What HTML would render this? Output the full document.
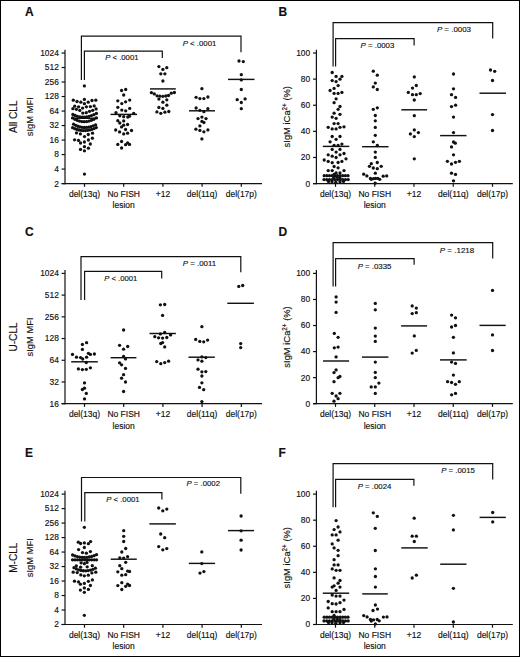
<!DOCTYPE html>
<html><head><meta charset="utf-8"><style>
html,body{margin:0;padding:0;background:#fff;}
svg{display:block;}
text{font-family:"Liberation Sans", sans-serif;fill:#111;stroke:#111;stroke-width:0.15px;}
</style></head><body>
<svg width="520" height="657" viewBox="0 0 520 657">
<rect x="0.5" y="0.5" width="519" height="656" fill="#fff" stroke="#000" stroke-width="1"/>
<g fill="#111">
<line x1="65.00" y1="49.70" x2="65.00" y2="184.20" stroke="#111" stroke-width="1.2"/>
<line x1="61.60" y1="183.60" x2="262.00" y2="183.60" stroke="#111" stroke-width="1.2"/>
<line x1="61.60" y1="183.60" x2="65.00" y2="183.60" stroke="#111" stroke-width="1.2"/>
<text x="58.80" y="186.50" font-size="8.4" text-anchor="end" >2</text>
<line x1="61.60" y1="169.09" x2="65.00" y2="169.09" stroke="#111" stroke-width="1.2"/>
<text x="58.80" y="171.99" font-size="8.4" text-anchor="end" >4</text>
<line x1="61.60" y1="154.58" x2="65.00" y2="154.58" stroke="#111" stroke-width="1.2"/>
<text x="58.80" y="157.48" font-size="8.4" text-anchor="end" >8</text>
<line x1="61.60" y1="140.07" x2="65.00" y2="140.07" stroke="#111" stroke-width="1.2"/>
<text x="58.80" y="142.97" font-size="8.4" text-anchor="end" >16</text>
<line x1="61.60" y1="125.56" x2="65.00" y2="125.56" stroke="#111" stroke-width="1.2"/>
<text x="58.80" y="128.46" font-size="8.4" text-anchor="end" >32</text>
<line x1="61.60" y1="111.04" x2="65.00" y2="111.04" stroke="#111" stroke-width="1.2"/>
<text x="58.80" y="113.94" font-size="8.4" text-anchor="end" >64</text>
<line x1="61.60" y1="96.53" x2="65.00" y2="96.53" stroke="#111" stroke-width="1.2"/>
<text x="58.80" y="99.43" font-size="8.4" text-anchor="end" >128</text>
<line x1="61.60" y1="82.02" x2="65.00" y2="82.02" stroke="#111" stroke-width="1.2"/>
<text x="58.80" y="84.92" font-size="8.4" text-anchor="end" >256</text>
<line x1="61.60" y1="67.51" x2="65.00" y2="67.51" stroke="#111" stroke-width="1.2"/>
<text x="58.80" y="70.41" font-size="8.4" text-anchor="end" >512</text>
<line x1="61.60" y1="53.00" x2="65.00" y2="53.00" stroke="#111" stroke-width="1.2"/>
<text x="58.80" y="55.90" font-size="8.4" text-anchor="end" >1024</text>
<line x1="84.50" y1="183.60" x2="84.50" y2="186.80" stroke="#111" stroke-width="1.2"/>
<line x1="123.70" y1="183.60" x2="123.70" y2="186.80" stroke="#111" stroke-width="1.2"/>
<line x1="162.90" y1="183.60" x2="162.90" y2="186.80" stroke="#111" stroke-width="1.2"/>
<line x1="202.10" y1="183.60" x2="202.10" y2="186.80" stroke="#111" stroke-width="1.2"/>
<line x1="241.30" y1="183.60" x2="241.30" y2="186.80" stroke="#111" stroke-width="1.2"/>
<text x="84.50" y="197.30" font-size="8.5" text-anchor="middle" >del(13q)</text>
<text x="123.70" y="197.30" font-size="8.5" text-anchor="middle" >No FISH</text>
<text x="162.90" y="197.30" font-size="8.5" text-anchor="middle" >+12</text>
<text x="202.10" y="197.30" font-size="8.5" text-anchor="middle" >del(11q)</text>
<text x="241.30" y="197.30" font-size="8.5" text-anchor="middle" >del(17p)</text>
<text x="123.70" y="208.40" font-size="8.5" text-anchor="middle" >lesion</text>
<text transform="translate(32.80,116.70) rotate(-90)" font-size="9.4" text-anchor="middle">sIgM MFI</text>
<text transform="translate(16.60,116.70) rotate(-90)" font-size="10.1" text-anchor="middle">All CLL</text>
<text x="25.00" y="16.00" font-size="12.0" text-anchor="start" font-weight="bold">A</text>
<polyline points="81.40,80.00 81.40,36.20 241.00,36.20 241.00,52.30" fill="none" stroke="#111" stroke-width="1.2"/>
<polyline points="84.40,80.00 84.40,51.20 162.30,51.20 162.30,57.90" fill="none" stroke="#111" stroke-width="1.2"/>
<text x="182.70" y="45.80" font-size="8.0" textLength="33.60" lengthAdjust="spacingAndGlyphs"><tspan font-style="italic">P</tspan> &lt; .0001</text>
<text x="105.20" y="59.70" font-size="8.0" textLength="33.30" lengthAdjust="spacingAndGlyphs"><tspan font-style="italic">P</tspan> &lt; .0001</text>
<line x1="71.20" y1="118.30" x2="97.80" y2="118.30" stroke="#111" stroke-width="1.45"/>
<line x1="110.50" y1="114.40" x2="137.00" y2="114.40" stroke="#111" stroke-width="1.45"/>
<line x1="150.00" y1="88.90" x2="175.80" y2="88.90" stroke="#111" stroke-width="1.45"/>
<line x1="189.00" y1="110.80" x2="215.00" y2="110.80" stroke="#111" stroke-width="1.45"/>
<line x1="228.00" y1="79.40" x2="254.50" y2="79.40" stroke="#111" stroke-width="1.45"/>
<circle cx="84.40" cy="85.90" r="1.65"/>
<circle cx="73.30" cy="100.20" r="1.65"/>
<circle cx="77.00" cy="101.50" r="1.65"/>
<circle cx="80.80" cy="102.20" r="1.65"/>
<circle cx="84.40" cy="99.40" r="1.65"/>
<circle cx="84.40" cy="103.70" r="1.65"/>
<circle cx="88.20" cy="102.20" r="1.65"/>
<circle cx="92.00" cy="100.50" r="1.65"/>
<circle cx="95.80" cy="100.20" r="1.65"/>
<circle cx="74.70" cy="106.20" r="1.65"/>
<circle cx="72.90" cy="108.70" r="1.65"/>
<circle cx="78.60" cy="106.80" r="1.65"/>
<circle cx="76.40" cy="109.30" r="1.65"/>
<circle cx="79.80" cy="110.40" r="1.65"/>
<circle cx="82.60" cy="108.10" r="1.65"/>
<circle cx="86.40" cy="106.80" r="1.65"/>
<circle cx="90.40" cy="106.60" r="1.65"/>
<circle cx="94.20" cy="105.90" r="1.65"/>
<circle cx="96.10" cy="108.90" r="1.65"/>
<circle cx="92.70" cy="110.30" r="1.65"/>
<circle cx="89.50" cy="111.30" r="1.65"/>
<circle cx="86.25" cy="112.70" r="1.65"/>
<circle cx="82.80" cy="113.10" r="1.65"/>
<circle cx="76.50" cy="132.90" r="1.65"/>
<circle cx="80.40" cy="133.90" r="1.65"/>
<circle cx="84.50" cy="136.60" r="1.65"/>
<circle cx="88.30" cy="134.50" r="1.65"/>
<circle cx="92.50" cy="133.20" r="1.65"/>
<circle cx="74.60" cy="139.80" r="1.65"/>
<circle cx="78.50" cy="140.40" r="1.65"/>
<circle cx="80.50" cy="143.00" r="1.65"/>
<circle cx="84.40" cy="142.00" r="1.65"/>
<circle cx="88.40" cy="140.00" r="1.65"/>
<circle cx="92.40" cy="138.20" r="1.65"/>
<circle cx="90.30" cy="144.00" r="1.65"/>
<circle cx="84.45" cy="146.70" r="1.65"/>
<circle cx="88.40" cy="148.20" r="1.65"/>
<circle cx="80.50" cy="149.40" r="1.65"/>
<circle cx="84.45" cy="150.80" r="1.65"/>
<circle cx="84.45" cy="174.10" r="1.65"/>
<circle cx="72.90" cy="114.50" r="1.65"/>
<circle cx="75.13" cy="115.52" r="1.65"/>
<circle cx="77.39" cy="116.28" r="1.65"/>
<circle cx="79.68" cy="116.80" r="1.65"/>
<circle cx="81.99" cy="117.06" r="1.65"/>
<circle cx="84.33" cy="117.07" r="1.65"/>
<circle cx="86.69" cy="116.84" r="1.65"/>
<circle cx="89.08" cy="116.36" r="1.65"/>
<circle cx="91.49" cy="115.62" r="1.65"/>
<circle cx="93.93" cy="114.64" r="1.65"/>
<circle cx="96.40" cy="113.40" r="1.65"/>
<circle cx="72.60" cy="117.90" r="1.65"/>
<circle cx="74.89" cy="119.27" r="1.65"/>
<circle cx="77.20" cy="120.33" r="1.65"/>
<circle cx="79.52" cy="121.09" r="1.65"/>
<circle cx="81.86" cy="121.55" r="1.65"/>
<circle cx="84.22" cy="121.70" r="1.65"/>
<circle cx="86.60" cy="121.55" r="1.65"/>
<circle cx="89.00" cy="121.09" r="1.65"/>
<circle cx="91.42" cy="120.33" r="1.65"/>
<circle cx="93.85" cy="119.27" r="1.65"/>
<circle cx="96.30" cy="117.90" r="1.65"/>
<circle cx="73.60" cy="124.20" r="1.65"/>
<circle cx="75.69" cy="125.34" r="1.65"/>
<circle cx="77.81" cy="126.24" r="1.65"/>
<circle cx="79.95" cy="126.90" r="1.65"/>
<circle cx="82.11" cy="127.32" r="1.65"/>
<circle cx="84.30" cy="127.50" r="1.65"/>
<circle cx="86.51" cy="127.44" r="1.65"/>
<circle cx="88.75" cy="127.14" r="1.65"/>
<circle cx="91.01" cy="126.60" r="1.65"/>
<circle cx="93.29" cy="125.82" r="1.65"/>
<circle cx="95.60" cy="124.80" r="1.65"/>
<circle cx="72.60" cy="127.70" r="1.65"/>
<circle cx="74.74" cy="128.66" r="1.65"/>
<circle cx="76.88" cy="129.42" r="1.65"/>
<circle cx="79.02" cy="129.99" r="1.65"/>
<circle cx="81.17" cy="130.37" r="1.65"/>
<circle cx="83.32" cy="130.56" r="1.65"/>
<circle cx="85.48" cy="130.55" r="1.65"/>
<circle cx="87.64" cy="130.34" r="1.65"/>
<circle cx="89.80" cy="129.95" r="1.65"/>
<circle cx="91.96" cy="129.36" r="1.65"/>
<circle cx="94.13" cy="128.58" r="1.65"/>
<circle cx="96.30" cy="127.60" r="1.65"/>
<circle cx="121.60" cy="90.50" r="1.65"/>
<circle cx="125.70" cy="89.50" r="1.65"/>
<circle cx="123.70" cy="95.00" r="1.65"/>
<circle cx="117.80" cy="100.80" r="1.65"/>
<circle cx="121.80" cy="103.60" r="1.65"/>
<circle cx="125.60" cy="101.80" r="1.65"/>
<circle cx="129.70" cy="100.10" r="1.65"/>
<circle cx="117.80" cy="107.30" r="1.65"/>
<circle cx="121.80" cy="110.10" r="1.65"/>
<circle cx="125.70" cy="110.80" r="1.65"/>
<circle cx="129.70" cy="108.40" r="1.65"/>
<circle cx="116.00" cy="112.70" r="1.65"/>
<circle cx="133.70" cy="113.30" r="1.65"/>
<circle cx="119.80" cy="115.80" r="1.65"/>
<circle cx="123.70" cy="116.70" r="1.65"/>
<circle cx="127.80" cy="117.00" r="1.65"/>
<circle cx="129.50" cy="116.20" r="1.65"/>
<circle cx="117.80" cy="120.70" r="1.65"/>
<circle cx="123.70" cy="120.90" r="1.65"/>
<circle cx="119.80" cy="123.00" r="1.65"/>
<circle cx="127.60" cy="124.50" r="1.65"/>
<circle cx="123.70" cy="125.20" r="1.65"/>
<circle cx="121.60" cy="126.90" r="1.65"/>
<circle cx="115.70" cy="130.00" r="1.65"/>
<circle cx="119.60" cy="131.90" r="1.65"/>
<circle cx="125.60" cy="129.50" r="1.65"/>
<circle cx="131.50" cy="130.50" r="1.65"/>
<circle cx="123.70" cy="133.90" r="1.65"/>
<circle cx="127.60" cy="133.20" r="1.65"/>
<circle cx="121.60" cy="141.50" r="1.65"/>
<circle cx="117.80" cy="144.40" r="1.65"/>
<circle cx="125.60" cy="144.70" r="1.65"/>
<circle cx="127.60" cy="142.90" r="1.65"/>
<circle cx="129.50" cy="144.40" r="1.65"/>
<circle cx="121.60" cy="148.00" r="1.65"/>
<circle cx="158.90" cy="66.60" r="1.65"/>
<circle cx="162.90" cy="69.40" r="1.65"/>
<circle cx="166.80" cy="67.70" r="1.65"/>
<circle cx="160.80" cy="73.80" r="1.65"/>
<circle cx="164.90" cy="73.80" r="1.65"/>
<circle cx="162.90" cy="81.00" r="1.65"/>
<circle cx="151.40" cy="92.70" r="1.65"/>
<circle cx="154.30" cy="93.90" r="1.65"/>
<circle cx="157.10" cy="95.80" r="1.65"/>
<circle cx="159.90" cy="96.20" r="1.65"/>
<circle cx="162.90" cy="96.30" r="1.65"/>
<circle cx="165.80" cy="96.00" r="1.65"/>
<circle cx="168.50" cy="95.50" r="1.65"/>
<circle cx="171.30" cy="93.20" r="1.65"/>
<circle cx="174.40" cy="92.50" r="1.65"/>
<circle cx="158.90" cy="99.10" r="1.65"/>
<circle cx="166.80" cy="99.80" r="1.65"/>
<circle cx="162.90" cy="102.20" r="1.65"/>
<circle cx="166.80" cy="105.20" r="1.65"/>
<circle cx="158.90" cy="107.40" r="1.65"/>
<circle cx="162.90" cy="108.40" r="1.65"/>
<circle cx="156.90" cy="111.90" r="1.65"/>
<circle cx="160.80" cy="113.30" r="1.65"/>
<circle cx="164.90" cy="112.20" r="1.65"/>
<circle cx="168.80" cy="111.50" r="1.65"/>
<circle cx="201.90" cy="88.70" r="1.65"/>
<circle cx="196.10" cy="97.30" r="1.65"/>
<circle cx="199.90" cy="98.60" r="1.65"/>
<circle cx="203.90" cy="98.60" r="1.65"/>
<circle cx="207.90" cy="97.00" r="1.65"/>
<circle cx="196.10" cy="108.00" r="1.65"/>
<circle cx="199.90" cy="110.30" r="1.65"/>
<circle cx="203.90" cy="111.70" r="1.65"/>
<circle cx="207.90" cy="108.70" r="1.65"/>
<circle cx="201.90" cy="117.10" r="1.65"/>
<circle cx="198.00" cy="118.60" r="1.65"/>
<circle cx="206.00" cy="118.60" r="1.65"/>
<circle cx="201.90" cy="121.40" r="1.65"/>
<circle cx="203.90" cy="122.50" r="1.65"/>
<circle cx="199.90" cy="125.90" r="1.65"/>
<circle cx="195.90" cy="129.20" r="1.65"/>
<circle cx="199.90" cy="130.40" r="1.65"/>
<circle cx="203.90" cy="131.80" r="1.65"/>
<circle cx="207.90" cy="129.90" r="1.65"/>
<circle cx="201.90" cy="138.90" r="1.65"/>
<circle cx="239.00" cy="61.00" r="1.65"/>
<circle cx="243.30" cy="61.60" r="1.65"/>
<circle cx="241.30" cy="74.70" r="1.65"/>
<circle cx="241.30" cy="79.90" r="1.65"/>
<circle cx="241.30" cy="89.50" r="1.65"/>
<circle cx="237.20" cy="99.70" r="1.65"/>
<circle cx="245.10" cy="98.90" r="1.65"/>
<circle cx="241.30" cy="102.50" r="1.65"/>
<circle cx="241.30" cy="108.70" r="1.65"/>
<line x1="316.40" y1="49.70" x2="316.40" y2="184.20" stroke="#111" stroke-width="1.2"/>
<line x1="313.00" y1="183.60" x2="512.80" y2="183.60" stroke="#111" stroke-width="1.2"/>
<line x1="313.00" y1="183.60" x2="316.40" y2="183.60" stroke="#111" stroke-width="1.2"/>
<text x="310.20" y="186.50" font-size="8.4" text-anchor="end" >0</text>
<line x1="313.00" y1="157.48" x2="316.40" y2="157.48" stroke="#111" stroke-width="1.2"/>
<text x="310.20" y="160.38" font-size="8.4" text-anchor="end" >20</text>
<line x1="313.00" y1="131.36" x2="316.40" y2="131.36" stroke="#111" stroke-width="1.2"/>
<text x="310.20" y="134.26" font-size="8.4" text-anchor="end" >40</text>
<line x1="313.00" y1="105.24" x2="316.40" y2="105.24" stroke="#111" stroke-width="1.2"/>
<text x="310.20" y="108.14" font-size="8.4" text-anchor="end" >60</text>
<line x1="313.00" y1="79.12" x2="316.40" y2="79.12" stroke="#111" stroke-width="1.2"/>
<text x="310.20" y="82.02" font-size="8.4" text-anchor="end" >80</text>
<line x1="313.00" y1="53.00" x2="316.40" y2="53.00" stroke="#111" stroke-width="1.2"/>
<text x="310.20" y="55.90" font-size="8.4" text-anchor="end" >100</text>
<line x1="335.50" y1="183.60" x2="335.50" y2="186.80" stroke="#111" stroke-width="1.2"/>
<line x1="374.75" y1="183.60" x2="374.75" y2="186.80" stroke="#111" stroke-width="1.2"/>
<line x1="414.00" y1="183.60" x2="414.00" y2="186.80" stroke="#111" stroke-width="1.2"/>
<line x1="453.25" y1="183.60" x2="453.25" y2="186.80" stroke="#111" stroke-width="1.2"/>
<line x1="492.50" y1="183.60" x2="492.50" y2="186.80" stroke="#111" stroke-width="1.2"/>
<text x="335.50" y="197.30" font-size="8.5" text-anchor="middle" >del(13q)</text>
<text x="374.75" y="197.30" font-size="8.5" text-anchor="middle" >No FISH</text>
<text x="414.00" y="197.30" font-size="8.5" text-anchor="middle" >+12</text>
<text x="453.25" y="197.30" font-size="8.5" text-anchor="middle" >del(11q)</text>
<text x="492.50" y="197.30" font-size="8.5" text-anchor="middle" >del(17p)</text>
<text x="374.75" y="208.40" font-size="8.5" text-anchor="middle" >lesion</text>
<text transform="translate(290.00,116.70) rotate(-90)" font-size="9.4" text-anchor="middle">sIgM iCa<tspan font-size="6.3" dy="-2.7">2+</tspan><tspan dy="2.7"> (%)</tspan></text>
<text x="278.50" y="16.00" font-size="12.0" text-anchor="start" font-weight="bold">B</text>
<polyline points="333.10,66.50 333.10,22.70 492.70,22.70 492.70,38.50" fill="none" stroke="#111" stroke-width="1.2"/>
<polyline points="335.60,66.50 335.60,38.70 414.10,38.70 414.10,45.40" fill="none" stroke="#111" stroke-width="1.2"/>
<text x="436.90" y="31.90" font-size="8.0" textLength="34.10" lengthAdjust="spacingAndGlyphs"><tspan font-style="italic">P</tspan> = .0003</text>
<text x="360.60" y="47.70" font-size="8.0" textLength="33.70" lengthAdjust="spacingAndGlyphs"><tspan font-style="italic">P</tspan> = .0003</text>
<line x1="322.80" y1="146.40" x2="349.30" y2="146.40" stroke="#111" stroke-width="1.45"/>
<line x1="362.10" y1="146.70" x2="388.50" y2="146.70" stroke="#111" stroke-width="1.45"/>
<line x1="401.30" y1="109.80" x2="427.10" y2="109.80" stroke="#111" stroke-width="1.45"/>
<line x1="440.10" y1="135.60" x2="466.50" y2="135.60" stroke="#111" stroke-width="1.45"/>
<line x1="479.50" y1="93.20" x2="506.00" y2="93.20" stroke="#111" stroke-width="1.45"/>
<circle cx="332.20" cy="72.50" r="1.65"/>
<circle cx="336.10" cy="76.40" r="1.65"/>
<circle cx="341.90" cy="76.40" r="1.65"/>
<circle cx="340.00" cy="79.20" r="1.65"/>
<circle cx="332.20" cy="80.60" r="1.65"/>
<circle cx="336.10" cy="81.60" r="1.65"/>
<circle cx="338.10" cy="85.60" r="1.65"/>
<circle cx="334.10" cy="88.40" r="1.65"/>
<circle cx="330.10" cy="90.50" r="1.65"/>
<circle cx="334.10" cy="93.40" r="1.65"/>
<circle cx="338.10" cy="93.40" r="1.65"/>
<circle cx="341.90" cy="92.40" r="1.65"/>
<circle cx="336.10" cy="98.80" r="1.65"/>
<circle cx="334.10" cy="102.70" r="1.65"/>
<circle cx="340.00" cy="106.50" r="1.65"/>
<circle cx="338.10" cy="109.30" r="1.65"/>
<circle cx="334.10" cy="113.20" r="1.65"/>
<circle cx="340.00" cy="114.30" r="1.65"/>
<circle cx="332.20" cy="117.10" r="1.65"/>
<circle cx="336.10" cy="118.30" r="1.65"/>
<circle cx="334.10" cy="123.60" r="1.65"/>
<circle cx="338.10" cy="123.60" r="1.65"/>
<circle cx="328.20" cy="127.30" r="1.65"/>
<circle cx="332.20" cy="128.90" r="1.65"/>
<circle cx="336.10" cy="128.90" r="1.65"/>
<circle cx="340.00" cy="127.30" r="1.65"/>
<circle cx="344.00" cy="126.80" r="1.65"/>
<circle cx="332.20" cy="136.50" r="1.65"/>
<circle cx="340.00" cy="136.50" r="1.65"/>
<circle cx="336.10" cy="139.30" r="1.65"/>
<circle cx="330.10" cy="141.80" r="1.65"/>
<circle cx="334.10" cy="145.30" r="1.65"/>
<circle cx="338.10" cy="145.50" r="1.65"/>
<circle cx="341.90" cy="144.10" r="1.65"/>
<circle cx="332.20" cy="149.40" r="1.65"/>
<circle cx="340.00" cy="149.40" r="1.65"/>
<circle cx="336.10" cy="152.10" r="1.65"/>
<circle cx="328.20" cy="154.80" r="1.65"/>
<circle cx="332.20" cy="156.20" r="1.65"/>
<circle cx="340.00" cy="154.80" r="1.65"/>
<circle cx="344.00" cy="153.50" r="1.65"/>
<circle cx="336.10" cy="157.50" r="1.65"/>
<circle cx="324.20" cy="160.00" r="1.65"/>
<circle cx="328.20" cy="161.40" r="1.65"/>
<circle cx="332.20" cy="162.70" r="1.65"/>
<circle cx="338.10" cy="162.50" r="1.65"/>
<circle cx="341.90" cy="161.40" r="1.65"/>
<circle cx="346.00" cy="158.80" r="1.65"/>
<circle cx="334.10" cy="166.50" r="1.65"/>
<circle cx="338.10" cy="167.80" r="1.65"/>
<circle cx="328.20" cy="170.60" r="1.65"/>
<circle cx="332.20" cy="170.60" r="1.65"/>
<circle cx="344.00" cy="170.60" r="1.65"/>
<circle cx="336.10" cy="172.90" r="1.65"/>
<circle cx="340.00" cy="172.90" r="1.65"/>
<circle cx="334.10" cy="174.50" r="1.65"/>
<circle cx="324.20" cy="175.70" r="1.65"/>
<circle cx="326.84" cy="175.70" r="1.65"/>
<circle cx="329.49" cy="175.70" r="1.65"/>
<circle cx="332.13" cy="175.70" r="1.65"/>
<circle cx="334.78" cy="175.70" r="1.65"/>
<circle cx="337.42" cy="175.70" r="1.65"/>
<circle cx="340.07" cy="175.70" r="1.65"/>
<circle cx="342.71" cy="175.70" r="1.65"/>
<circle cx="345.36" cy="175.70" r="1.65"/>
<circle cx="348.00" cy="175.70" r="1.65"/>
<circle cx="333.80" cy="177.60" r="1.65"/>
<circle cx="337.20" cy="177.20" r="1.65"/>
<circle cx="340.00" cy="178.20" r="1.65"/>
<circle cx="324.00" cy="179.60" r="1.65"/>
<circle cx="326.69" cy="179.60" r="1.65"/>
<circle cx="329.38" cy="179.60" r="1.65"/>
<circle cx="332.07" cy="179.60" r="1.65"/>
<circle cx="334.76" cy="179.60" r="1.65"/>
<circle cx="337.44" cy="179.60" r="1.65"/>
<circle cx="340.13" cy="179.60" r="1.65"/>
<circle cx="342.82" cy="179.60" r="1.65"/>
<circle cx="345.51" cy="179.60" r="1.65"/>
<circle cx="348.20" cy="179.60" r="1.65"/>
<circle cx="328.50" cy="181.50" r="1.65"/>
<circle cx="332.00" cy="181.70" r="1.65"/>
<circle cx="335.80" cy="182.30" r="1.65"/>
<circle cx="340.00" cy="181.70" r="1.65"/>
<circle cx="343.50" cy="181.40" r="1.65"/>
<circle cx="373.30" cy="71.20" r="1.65"/>
<circle cx="377.30" cy="75.20" r="1.65"/>
<circle cx="375.30" cy="83.10" r="1.65"/>
<circle cx="373.30" cy="86.90" r="1.65"/>
<circle cx="377.30" cy="89.50" r="1.65"/>
<circle cx="373.30" cy="109.30" r="1.65"/>
<circle cx="377.30" cy="107.80" r="1.65"/>
<circle cx="375.30" cy="115.50" r="1.65"/>
<circle cx="375.30" cy="120.80" r="1.65"/>
<circle cx="375.30" cy="127.40" r="1.65"/>
<circle cx="375.30" cy="135.30" r="1.65"/>
<circle cx="373.30" cy="141.80" r="1.65"/>
<circle cx="377.30" cy="145.50" r="1.65"/>
<circle cx="375.30" cy="152.10" r="1.65"/>
<circle cx="375.30" cy="157.40" r="1.65"/>
<circle cx="371.30" cy="163.70" r="1.65"/>
<circle cx="377.30" cy="162.50" r="1.65"/>
<circle cx="369.40" cy="166.30" r="1.65"/>
<circle cx="373.30" cy="168.00" r="1.65"/>
<circle cx="377.30" cy="168.70" r="1.65"/>
<circle cx="381.20" cy="166.30" r="1.65"/>
<circle cx="375.30" cy="173.20" r="1.65"/>
<circle cx="375.20" cy="183.10" r="1.65"/>
<circle cx="363.70" cy="174.20" r="1.65"/>
<circle cx="366.90" cy="175.90" r="1.65"/>
<circle cx="370.40" cy="178.40" r="1.65"/>
<circle cx="371.30" cy="179.30" r="1.65"/>
<circle cx="373.50" cy="178.60" r="1.65"/>
<circle cx="375.50" cy="178.40" r="1.65"/>
<circle cx="377.80" cy="178.40" r="1.65"/>
<circle cx="379.70" cy="179.30" r="1.65"/>
<circle cx="383.20" cy="176.20" r="1.65"/>
<circle cx="386.70" cy="175.90" r="1.65"/>
<circle cx="414.30" cy="76.90" r="1.65"/>
<circle cx="416.30" cy="85.50" r="1.65"/>
<circle cx="412.50" cy="88.10" r="1.65"/>
<circle cx="408.30" cy="92.40" r="1.65"/>
<circle cx="412.50" cy="94.70" r="1.65"/>
<circle cx="416.30" cy="94.70" r="1.65"/>
<circle cx="420.20" cy="93.60" r="1.65"/>
<circle cx="414.30" cy="100.00" r="1.65"/>
<circle cx="414.30" cy="115.70" r="1.65"/>
<circle cx="414.30" cy="129.90" r="1.65"/>
<circle cx="418.40" cy="132.60" r="1.65"/>
<circle cx="410.40" cy="133.90" r="1.65"/>
<circle cx="414.30" cy="136.60" r="1.65"/>
<circle cx="414.30" cy="158.80" r="1.65"/>
<circle cx="453.50" cy="74.00" r="1.65"/>
<circle cx="453.50" cy="88.80" r="1.65"/>
<circle cx="451.50" cy="94.70" r="1.65"/>
<circle cx="455.60" cy="97.40" r="1.65"/>
<circle cx="455.60" cy="105.20" r="1.65"/>
<circle cx="451.50" cy="106.60" r="1.65"/>
<circle cx="453.50" cy="117.10" r="1.65"/>
<circle cx="453.50" cy="132.60" r="1.65"/>
<circle cx="453.50" cy="142.00" r="1.65"/>
<circle cx="455.30" cy="143.20" r="1.65"/>
<circle cx="451.50" cy="146.90" r="1.65"/>
<circle cx="453.50" cy="154.80" r="1.65"/>
<circle cx="447.40" cy="161.30" r="1.65"/>
<circle cx="451.50" cy="164.00" r="1.65"/>
<circle cx="455.50" cy="162.30" r="1.65"/>
<circle cx="459.40" cy="161.30" r="1.65"/>
<circle cx="451.50" cy="173.20" r="1.65"/>
<circle cx="455.50" cy="174.40" r="1.65"/>
<circle cx="453.50" cy="180.80" r="1.65"/>
<circle cx="490.50" cy="70.00" r="1.65"/>
<circle cx="494.70" cy="71.30" r="1.65"/>
<circle cx="492.50" cy="80.50" r="1.65"/>
<circle cx="492.50" cy="114.60" r="1.65"/>
<circle cx="492.50" cy="130.50" r="1.65"/>
<line x1="65.00" y1="270.10" x2="65.00" y2="404.30" stroke="#111" stroke-width="1.2"/>
<line x1="61.60" y1="403.70" x2="262.00" y2="403.70" stroke="#111" stroke-width="1.2"/>
<line x1="61.60" y1="403.70" x2="65.00" y2="403.70" stroke="#111" stroke-width="1.2"/>
<text x="58.80" y="406.60" font-size="8.4" text-anchor="end" >16</text>
<line x1="61.60" y1="381.98" x2="65.00" y2="381.98" stroke="#111" stroke-width="1.2"/>
<text x="58.80" y="384.88" font-size="8.4" text-anchor="end" >32</text>
<line x1="61.60" y1="360.27" x2="65.00" y2="360.27" stroke="#111" stroke-width="1.2"/>
<text x="58.80" y="363.17" font-size="8.4" text-anchor="end" >64</text>
<line x1="61.60" y1="338.55" x2="65.00" y2="338.55" stroke="#111" stroke-width="1.2"/>
<text x="58.80" y="341.45" font-size="8.4" text-anchor="end" >128</text>
<line x1="61.60" y1="316.83" x2="65.00" y2="316.83" stroke="#111" stroke-width="1.2"/>
<text x="58.80" y="319.73" font-size="8.4" text-anchor="end" >256</text>
<line x1="61.60" y1="295.12" x2="65.00" y2="295.12" stroke="#111" stroke-width="1.2"/>
<text x="58.80" y="298.02" font-size="8.4" text-anchor="end" >512</text>
<line x1="61.60" y1="273.40" x2="65.00" y2="273.40" stroke="#111" stroke-width="1.2"/>
<text x="58.80" y="276.30" font-size="8.4" text-anchor="end" >1024</text>
<line x1="84.50" y1="403.70" x2="84.50" y2="406.90" stroke="#111" stroke-width="1.2"/>
<line x1="123.70" y1="403.70" x2="123.70" y2="406.90" stroke="#111" stroke-width="1.2"/>
<line x1="162.90" y1="403.70" x2="162.90" y2="406.90" stroke="#111" stroke-width="1.2"/>
<line x1="202.10" y1="403.70" x2="202.10" y2="406.90" stroke="#111" stroke-width="1.2"/>
<line x1="241.30" y1="403.70" x2="241.30" y2="406.90" stroke="#111" stroke-width="1.2"/>
<text x="84.50" y="417.40" font-size="8.5" text-anchor="middle" >del(13q)</text>
<text x="123.70" y="417.40" font-size="8.5" text-anchor="middle" >No FISH</text>
<text x="162.90" y="417.40" font-size="8.5" text-anchor="middle" >+12</text>
<text x="202.10" y="417.40" font-size="8.5" text-anchor="middle" >del(11q)</text>
<text x="241.30" y="417.40" font-size="8.5" text-anchor="middle" >del(17p)</text>
<text x="123.70" y="428.50" font-size="8.5" text-anchor="middle" >lesion</text>
<text transform="translate(32.80,336.95) rotate(-90)" font-size="9.4" text-anchor="middle">sIgM MFI</text>
<text transform="translate(16.60,336.95) rotate(-90)" font-size="10.1" text-anchor="middle">U-CLL</text>
<text x="25.00" y="236.30" font-size="12.0" text-anchor="start" font-weight="bold">C</text>
<polyline points="81.00,300.00 81.00,256.60 240.80,256.60 240.80,272.30" fill="none" stroke="#111" stroke-width="1.2"/>
<polyline points="84.60,300.00 84.60,271.30 161.70,271.30 161.70,278.50" fill="none" stroke="#111" stroke-width="1.2"/>
<text x="182.70" y="266.30" font-size="8.0" textLength="33.50" lengthAdjust="spacingAndGlyphs"><tspan font-style="italic">P</tspan> = .0011</text>
<text x="104.20" y="280.80" font-size="8.0" textLength="33.10" lengthAdjust="spacingAndGlyphs"><tspan font-style="italic">P</tspan> &lt; .0001</text>
<line x1="71.20" y1="361.80" x2="97.80" y2="361.80" stroke="#111" stroke-width="1.45"/>
<line x1="110.60" y1="357.70" x2="136.40" y2="357.70" stroke="#111" stroke-width="1.45"/>
<line x1="149.50" y1="333.50" x2="175.90" y2="333.50" stroke="#111" stroke-width="1.45"/>
<line x1="188.50" y1="357.20" x2="214.80" y2="357.20" stroke="#111" stroke-width="1.45"/>
<line x1="227.30" y1="303.30" x2="253.90" y2="303.30" stroke="#111" stroke-width="1.45"/>
<circle cx="82.40" cy="344.40" r="1.65"/>
<circle cx="86.60" cy="342.70" r="1.65"/>
<circle cx="82.40" cy="349.40" r="1.65"/>
<circle cx="72.50" cy="354.40" r="1.65"/>
<circle cx="76.50" cy="357.20" r="1.65"/>
<circle cx="80.60" cy="357.60" r="1.65"/>
<circle cx="82.70" cy="359.00" r="1.65"/>
<circle cx="86.60" cy="357.20" r="1.65"/>
<circle cx="88.40" cy="353.30" r="1.65"/>
<circle cx="90.40" cy="354.40" r="1.65"/>
<circle cx="94.40" cy="354.00" r="1.65"/>
<circle cx="86.30" cy="362.50" r="1.65"/>
<circle cx="78.40" cy="368.90" r="1.65"/>
<circle cx="82.40" cy="369.60" r="1.65"/>
<circle cx="86.30" cy="369.30" r="1.65"/>
<circle cx="90.40" cy="367.80" r="1.65"/>
<circle cx="84.50" cy="382.90" r="1.65"/>
<circle cx="84.50" cy="388.20" r="1.65"/>
<circle cx="82.40" cy="389.50" r="1.65"/>
<circle cx="86.30" cy="393.40" r="1.65"/>
<circle cx="84.50" cy="398.90" r="1.65"/>
<circle cx="123.60" cy="330.00" r="1.65"/>
<circle cx="119.60" cy="345.30" r="1.65"/>
<circle cx="127.70" cy="346.50" r="1.65"/>
<circle cx="123.60" cy="349.20" r="1.65"/>
<circle cx="123.60" cy="356.50" r="1.65"/>
<circle cx="125.50" cy="358.90" r="1.65"/>
<circle cx="119.60" cy="362.80" r="1.65"/>
<circle cx="121.60" cy="364.80" r="1.65"/>
<circle cx="125.50" cy="368.40" r="1.65"/>
<circle cx="123.60" cy="374.70" r="1.65"/>
<circle cx="121.60" cy="378.20" r="1.65"/>
<circle cx="125.50" cy="382.00" r="1.65"/>
<circle cx="123.60" cy="391.50" r="1.65"/>
<circle cx="160.40" cy="304.80" r="1.65"/>
<circle cx="164.70" cy="304.50" r="1.65"/>
<circle cx="162.60" cy="315.40" r="1.65"/>
<circle cx="160.40" cy="333.90" r="1.65"/>
<circle cx="164.70" cy="332.50" r="1.65"/>
<circle cx="170.60" cy="334.90" r="1.65"/>
<circle cx="154.80" cy="336.70" r="1.65"/>
<circle cx="158.60" cy="337.80" r="1.65"/>
<circle cx="162.60" cy="338.10" r="1.65"/>
<circle cx="166.80" cy="337.50" r="1.65"/>
<circle cx="160.80" cy="343.50" r="1.65"/>
<circle cx="162.60" cy="342.60" r="1.65"/>
<circle cx="164.70" cy="346.90" r="1.65"/>
<circle cx="156.70" cy="361.60" r="1.65"/>
<circle cx="160.80" cy="363.70" r="1.65"/>
<circle cx="164.70" cy="362.60" r="1.65"/>
<circle cx="168.60" cy="361.20" r="1.65"/>
<circle cx="201.90" cy="326.70" r="1.65"/>
<circle cx="195.70" cy="339.40" r="1.65"/>
<circle cx="199.80" cy="341.40" r="1.65"/>
<circle cx="203.70" cy="341.80" r="1.65"/>
<circle cx="207.60" cy="340.10" r="1.65"/>
<circle cx="201.90" cy="356.90" r="1.65"/>
<circle cx="205.80" cy="357.60" r="1.65"/>
<circle cx="198.00" cy="359.90" r="1.65"/>
<circle cx="201.90" cy="361.20" r="1.65"/>
<circle cx="198.00" cy="369.20" r="1.65"/>
<circle cx="201.90" cy="371.80" r="1.65"/>
<circle cx="205.80" cy="371.60" r="1.65"/>
<circle cx="201.90" cy="376.00" r="1.65"/>
<circle cx="201.90" cy="382.80" r="1.65"/>
<circle cx="199.50" cy="387.40" r="1.65"/>
<circle cx="203.70" cy="389.70" r="1.65"/>
<circle cx="201.90" cy="401.60" r="1.65"/>
<circle cx="238.80" cy="286.40" r="1.65"/>
<circle cx="242.70" cy="285.50" r="1.65"/>
<circle cx="240.70" cy="343.60" r="1.65"/>
<circle cx="240.70" cy="347.60" r="1.65"/>
<line x1="316.40" y1="270.10" x2="316.40" y2="404.30" stroke="#111" stroke-width="1.2"/>
<line x1="313.00" y1="403.70" x2="512.80" y2="403.70" stroke="#111" stroke-width="1.2"/>
<line x1="313.00" y1="403.70" x2="316.40" y2="403.70" stroke="#111" stroke-width="1.2"/>
<text x="310.20" y="406.60" font-size="8.4" text-anchor="end" >0</text>
<line x1="313.00" y1="377.64" x2="316.40" y2="377.64" stroke="#111" stroke-width="1.2"/>
<text x="310.20" y="380.54" font-size="8.4" text-anchor="end" >20</text>
<line x1="313.00" y1="351.58" x2="316.40" y2="351.58" stroke="#111" stroke-width="1.2"/>
<text x="310.20" y="354.48" font-size="8.4" text-anchor="end" >40</text>
<line x1="313.00" y1="325.52" x2="316.40" y2="325.52" stroke="#111" stroke-width="1.2"/>
<text x="310.20" y="328.42" font-size="8.4" text-anchor="end" >60</text>
<line x1="313.00" y1="299.46" x2="316.40" y2="299.46" stroke="#111" stroke-width="1.2"/>
<text x="310.20" y="302.36" font-size="8.4" text-anchor="end" >80</text>
<line x1="313.00" y1="273.40" x2="316.40" y2="273.40" stroke="#111" stroke-width="1.2"/>
<text x="310.20" y="276.30" font-size="8.4" text-anchor="end" >100</text>
<line x1="335.50" y1="403.70" x2="335.50" y2="406.90" stroke="#111" stroke-width="1.2"/>
<line x1="374.75" y1="403.70" x2="374.75" y2="406.90" stroke="#111" stroke-width="1.2"/>
<line x1="414.00" y1="403.70" x2="414.00" y2="406.90" stroke="#111" stroke-width="1.2"/>
<line x1="453.25" y1="403.70" x2="453.25" y2="406.90" stroke="#111" stroke-width="1.2"/>
<line x1="492.50" y1="403.70" x2="492.50" y2="406.90" stroke="#111" stroke-width="1.2"/>
<text x="335.50" y="417.40" font-size="8.5" text-anchor="middle" >del(13q)</text>
<text x="374.75" y="417.40" font-size="8.5" text-anchor="middle" >No FISH</text>
<text x="414.00" y="417.40" font-size="8.5" text-anchor="middle" >+12</text>
<text x="453.25" y="417.40" font-size="8.5" text-anchor="middle" >del(11q)</text>
<text x="492.50" y="417.40" font-size="8.5" text-anchor="middle" >del(17p)</text>
<text x="374.75" y="428.50" font-size="8.5" text-anchor="middle" >lesion</text>
<text transform="translate(290.00,336.95) rotate(-90)" font-size="9.4" text-anchor="middle">sIgM iCa<tspan font-size="6.3" dy="-2.7">2+</tspan><tspan dy="2.7"> (%)</tspan></text>
<text x="278.50" y="236.30" font-size="12.0" text-anchor="start" font-weight="bold">D</text>
<polyline points="333.10,286.50 333.10,242.70 492.70,242.70 492.70,258.50" fill="none" stroke="#111" stroke-width="1.2"/>
<polyline points="335.60,286.50 335.60,258.70 414.10,258.70 414.10,264.80" fill="none" stroke="#111" stroke-width="1.2"/>
<text x="439.80" y="253.30" font-size="8.0" textLength="34.40" lengthAdjust="spacingAndGlyphs"><tspan font-style="italic">P</tspan> = .1218</text>
<text x="357.70" y="269.20" font-size="8.0" textLength="33.70" lengthAdjust="spacingAndGlyphs"><tspan font-style="italic">P</tspan> = .0335</text>
<line x1="323.00" y1="361.00" x2="349.10" y2="361.00" stroke="#111" stroke-width="1.45"/>
<line x1="361.90" y1="357.10" x2="388.40" y2="357.10" stroke="#111" stroke-width="1.45"/>
<line x1="401.10" y1="325.90" x2="427.10" y2="325.90" stroke="#111" stroke-width="1.45"/>
<line x1="440.00" y1="359.90" x2="466.70" y2="359.90" stroke="#111" stroke-width="1.45"/>
<line x1="479.50" y1="325.40" x2="505.70" y2="325.40" stroke="#111" stroke-width="1.45"/>
<circle cx="336.10" cy="296.90" r="1.65"/>
<circle cx="336.10" cy="302.10" r="1.65"/>
<circle cx="336.10" cy="312.40" r="1.65"/>
<circle cx="334.30" cy="333.40" r="1.65"/>
<circle cx="338.10" cy="337.30" r="1.65"/>
<circle cx="334.30" cy="347.80" r="1.65"/>
<circle cx="338.10" cy="347.10" r="1.65"/>
<circle cx="336.10" cy="356.90" r="1.65"/>
<circle cx="336.10" cy="369.90" r="1.65"/>
<circle cx="334.00" cy="372.60" r="1.65"/>
<circle cx="338.10" cy="377.70" r="1.65"/>
<circle cx="339.90" cy="376.50" r="1.65"/>
<circle cx="334.00" cy="381.70" r="1.65"/>
<circle cx="332.20" cy="393.30" r="1.65"/>
<circle cx="339.90" cy="393.30" r="1.65"/>
<circle cx="336.10" cy="396.00" r="1.65"/>
<circle cx="338.10" cy="398.70" r="1.65"/>
<circle cx="334.00" cy="401.20" r="1.65"/>
<circle cx="375.30" cy="303.40" r="1.65"/>
<circle cx="375.30" cy="309.80" r="1.65"/>
<circle cx="375.30" cy="328.10" r="1.65"/>
<circle cx="375.30" cy="336.10" r="1.65"/>
<circle cx="375.30" cy="341.40" r="1.65"/>
<circle cx="375.30" cy="362.10" r="1.65"/>
<circle cx="375.30" cy="372.40" r="1.65"/>
<circle cx="375.30" cy="377.60" r="1.65"/>
<circle cx="378.90" cy="383.10" r="1.65"/>
<circle cx="371.20" cy="386.90" r="1.65"/>
<circle cx="375.30" cy="386.90" r="1.65"/>
<circle cx="375.30" cy="393.40" r="1.65"/>
<circle cx="412.20" cy="305.90" r="1.65"/>
<circle cx="416.30" cy="308.10" r="1.65"/>
<circle cx="412.20" cy="313.60" r="1.65"/>
<circle cx="416.30" cy="312.70" r="1.65"/>
<circle cx="414.30" cy="335.90" r="1.65"/>
<circle cx="416.30" cy="350.40" r="1.65"/>
<circle cx="412.20" cy="353.10" r="1.65"/>
<circle cx="451.60" cy="315.10" r="1.65"/>
<circle cx="455.50" cy="317.80" r="1.65"/>
<circle cx="451.60" cy="327.00" r="1.65"/>
<circle cx="455.50" cy="325.50" r="1.65"/>
<circle cx="453.40" cy="337.30" r="1.65"/>
<circle cx="453.40" cy="352.90" r="1.65"/>
<circle cx="451.60" cy="362.10" r="1.65"/>
<circle cx="455.50" cy="363.40" r="1.65"/>
<circle cx="453.40" cy="375.10" r="1.65"/>
<circle cx="447.60" cy="381.70" r="1.65"/>
<circle cx="451.60" cy="382.50" r="1.65"/>
<circle cx="455.50" cy="384.30" r="1.65"/>
<circle cx="459.30" cy="381.70" r="1.65"/>
<circle cx="451.60" cy="394.80" r="1.65"/>
<circle cx="455.50" cy="393.40" r="1.65"/>
<circle cx="492.50" cy="290.40" r="1.65"/>
<circle cx="492.50" cy="334.90" r="1.65"/>
<circle cx="492.50" cy="350.50" r="1.65"/>
<line x1="65.00" y1="490.80" x2="65.00" y2="625.10" stroke="#111" stroke-width="1.2"/>
<line x1="61.60" y1="624.50" x2="262.00" y2="624.50" stroke="#111" stroke-width="1.2"/>
<line x1="61.60" y1="624.50" x2="65.00" y2="624.50" stroke="#111" stroke-width="1.2"/>
<text x="58.80" y="627.40" font-size="8.4" text-anchor="end" >2</text>
<line x1="61.60" y1="610.01" x2="65.00" y2="610.01" stroke="#111" stroke-width="1.2"/>
<text x="58.80" y="612.91" font-size="8.4" text-anchor="end" >4</text>
<line x1="61.60" y1="595.52" x2="65.00" y2="595.52" stroke="#111" stroke-width="1.2"/>
<text x="58.80" y="598.42" font-size="8.4" text-anchor="end" >8</text>
<line x1="61.60" y1="581.03" x2="65.00" y2="581.03" stroke="#111" stroke-width="1.2"/>
<text x="58.80" y="583.93" font-size="8.4" text-anchor="end" >16</text>
<line x1="61.60" y1="566.54" x2="65.00" y2="566.54" stroke="#111" stroke-width="1.2"/>
<text x="58.80" y="569.44" font-size="8.4" text-anchor="end" >32</text>
<line x1="61.60" y1="552.06" x2="65.00" y2="552.06" stroke="#111" stroke-width="1.2"/>
<text x="58.80" y="554.96" font-size="8.4" text-anchor="end" >64</text>
<line x1="61.60" y1="537.57" x2="65.00" y2="537.57" stroke="#111" stroke-width="1.2"/>
<text x="58.80" y="540.47" font-size="8.4" text-anchor="end" >128</text>
<line x1="61.60" y1="523.08" x2="65.00" y2="523.08" stroke="#111" stroke-width="1.2"/>
<text x="58.80" y="525.98" font-size="8.4" text-anchor="end" >256</text>
<line x1="61.60" y1="508.59" x2="65.00" y2="508.59" stroke="#111" stroke-width="1.2"/>
<text x="58.80" y="511.49" font-size="8.4" text-anchor="end" >512</text>
<line x1="61.60" y1="494.10" x2="65.00" y2="494.10" stroke="#111" stroke-width="1.2"/>
<text x="58.80" y="497.00" font-size="8.4" text-anchor="end" >1024</text>
<line x1="84.50" y1="624.50" x2="84.50" y2="627.70" stroke="#111" stroke-width="1.2"/>
<line x1="123.70" y1="624.50" x2="123.70" y2="627.70" stroke="#111" stroke-width="1.2"/>
<line x1="162.90" y1="624.50" x2="162.90" y2="627.70" stroke="#111" stroke-width="1.2"/>
<line x1="202.10" y1="624.50" x2="202.10" y2="627.70" stroke="#111" stroke-width="1.2"/>
<line x1="241.30" y1="624.50" x2="241.30" y2="627.70" stroke="#111" stroke-width="1.2"/>
<text x="84.50" y="638.20" font-size="8.5" text-anchor="middle" >del(13q)</text>
<text x="123.70" y="638.20" font-size="8.5" text-anchor="middle" >No FISH</text>
<text x="162.90" y="638.20" font-size="8.5" text-anchor="middle" >+12</text>
<text x="202.10" y="638.20" font-size="8.5" text-anchor="middle" >del(11q)</text>
<text x="241.30" y="638.20" font-size="8.5" text-anchor="middle" >del(17p)</text>
<text x="123.70" y="649.30" font-size="8.5" text-anchor="middle" >lesion</text>
<text transform="translate(32.80,557.70) rotate(-90)" font-size="9.4" text-anchor="middle">sIgM MFI</text>
<text transform="translate(16.60,557.70) rotate(-90)" font-size="10.1" text-anchor="middle">M-CLL</text>
<text x="25.00" y="457.40" font-size="12.0" text-anchor="start" font-weight="bold">E</text>
<polyline points="81.50,521.40 81.50,477.50 240.80,477.50 240.80,493.70" fill="none" stroke="#111" stroke-width="1.2"/>
<polyline points="84.80,521.40 84.80,492.70 161.90,492.70 161.90,499.40" fill="none" stroke="#111" stroke-width="1.2"/>
<text x="186.50" y="485.80" font-size="8.0" textLength="33.50" lengthAdjust="spacingAndGlyphs"><tspan font-style="italic">P</tspan> = .0002</text>
<text x="106.20" y="501.70" font-size="8.0" textLength="33.40" lengthAdjust="spacingAndGlyphs"><tspan font-style="italic">P</tspan> &lt; .0001</text>
<line x1="71.20" y1="559.80" x2="97.80" y2="559.80" stroke="#111" stroke-width="1.45"/>
<line x1="110.70" y1="559.20" x2="136.80" y2="559.20" stroke="#111" stroke-width="1.45"/>
<line x1="149.40" y1="523.90" x2="175.90" y2="523.90" stroke="#111" stroke-width="1.45"/>
<line x1="188.80" y1="563.40" x2="215.10" y2="563.40" stroke="#111" stroke-width="1.45"/>
<line x1="228.00" y1="530.60" x2="254.10" y2="530.60" stroke="#111" stroke-width="1.45"/>
<circle cx="84.35" cy="527.30" r="1.65"/>
<circle cx="78.30" cy="542.20" r="1.65"/>
<circle cx="80.60" cy="543.50" r="1.65"/>
<circle cx="84.35" cy="542.90" r="1.65"/>
<circle cx="88.40" cy="543.70" r="1.65"/>
<circle cx="90.60" cy="541.60" r="1.65"/>
<circle cx="84.35" cy="547.50" r="1.65"/>
<circle cx="78.60" cy="549.60" r="1.65"/>
<circle cx="82.50" cy="552.60" r="1.65"/>
<circle cx="86.40" cy="553.20" r="1.65"/>
<circle cx="90.40" cy="551.60" r="1.65"/>
<circle cx="72.60" cy="555.00" r="1.65"/>
<circle cx="74.95" cy="555.90" r="1.65"/>
<circle cx="77.32" cy="556.59" r="1.65"/>
<circle cx="79.69" cy="557.07" r="1.65"/>
<circle cx="82.06" cy="557.35" r="1.65"/>
<circle cx="84.45" cy="557.42" r="1.65"/>
<circle cx="86.84" cy="557.29" r="1.65"/>
<circle cx="89.25" cy="556.95" r="1.65"/>
<circle cx="91.66" cy="556.41" r="1.65"/>
<circle cx="94.07" cy="555.66" r="1.65"/>
<circle cx="96.50" cy="554.70" r="1.65"/>
<circle cx="72.60" cy="559.80" r="1.65"/>
<circle cx="74.99" cy="559.80" r="1.65"/>
<circle cx="77.38" cy="559.80" r="1.65"/>
<circle cx="79.77" cy="559.80" r="1.65"/>
<circle cx="82.16" cy="559.80" r="1.65"/>
<circle cx="84.55" cy="559.80" r="1.65"/>
<circle cx="86.94" cy="559.80" r="1.65"/>
<circle cx="89.33" cy="559.80" r="1.65"/>
<circle cx="91.72" cy="559.80" r="1.65"/>
<circle cx="94.11" cy="559.80" r="1.65"/>
<circle cx="96.50" cy="559.80" r="1.65"/>
<circle cx="81.10" cy="562.80" r="1.65"/>
<circle cx="84.35" cy="563.70" r="1.65"/>
<circle cx="87.00" cy="562.40" r="1.65"/>
<circle cx="76.30" cy="566.00" r="1.65"/>
<circle cx="80.60" cy="567.20" r="1.65"/>
<circle cx="87.20" cy="566.80" r="1.65"/>
<circle cx="92.30" cy="565.70" r="1.65"/>
<circle cx="74.00" cy="567.70" r="1.65"/>
<circle cx="76.30" cy="568.89" r="1.65"/>
<circle cx="78.62" cy="569.80" r="1.65"/>
<circle cx="80.96" cy="570.42" r="1.65"/>
<circle cx="83.31" cy="570.76" r="1.65"/>
<circle cx="85.69" cy="570.82" r="1.65"/>
<circle cx="88.09" cy="570.59" r="1.65"/>
<circle cx="90.51" cy="570.08" r="1.65"/>
<circle cx="92.94" cy="569.28" r="1.65"/>
<circle cx="95.40" cy="568.20" r="1.65"/>
<circle cx="73.20" cy="572.20" r="1.65"/>
<circle cx="77.20" cy="572.60" r="1.65"/>
<circle cx="80.80" cy="574.90" r="1.65"/>
<circle cx="84.35" cy="575.80" r="1.65"/>
<circle cx="88.30" cy="575.20" r="1.65"/>
<circle cx="91.90" cy="572.90" r="1.65"/>
<circle cx="95.80" cy="572.20" r="1.65"/>
<circle cx="74.50" cy="581.20" r="1.65"/>
<circle cx="78.50" cy="581.90" r="1.65"/>
<circle cx="80.40" cy="584.20" r="1.65"/>
<circle cx="84.35" cy="583.40" r="1.65"/>
<circle cx="88.40" cy="581.30" r="1.65"/>
<circle cx="92.40" cy="579.90" r="1.65"/>
<circle cx="90.40" cy="585.50" r="1.65"/>
<circle cx="84.35" cy="587.90" r="1.65"/>
<circle cx="88.40" cy="589.40" r="1.65"/>
<circle cx="80.40" cy="590.10" r="1.65"/>
<circle cx="84.35" cy="592.30" r="1.65"/>
<circle cx="84.35" cy="615.30" r="1.65"/>
<circle cx="123.70" cy="530.70" r="1.65"/>
<circle cx="123.70" cy="536.30" r="1.65"/>
<circle cx="123.70" cy="541.50" r="1.65"/>
<circle cx="125.70" cy="548.50" r="1.65"/>
<circle cx="121.80" cy="552.00" r="1.65"/>
<circle cx="119.80" cy="557.80" r="1.65"/>
<circle cx="123.70" cy="558.10" r="1.65"/>
<circle cx="127.60" cy="556.70" r="1.65"/>
<circle cx="125.70" cy="562.30" r="1.65"/>
<circle cx="119.80" cy="565.70" r="1.65"/>
<circle cx="121.80" cy="568.70" r="1.65"/>
<circle cx="117.80" cy="571.80" r="1.65"/>
<circle cx="127.60" cy="571.10" r="1.65"/>
<circle cx="129.50" cy="571.50" r="1.65"/>
<circle cx="121.80" cy="575.20" r="1.65"/>
<circle cx="125.70" cy="574.70" r="1.65"/>
<circle cx="121.80" cy="582.70" r="1.65"/>
<circle cx="117.80" cy="585.60" r="1.65"/>
<circle cx="125.70" cy="586.30" r="1.65"/>
<circle cx="127.60" cy="584.10" r="1.65"/>
<circle cx="129.50" cy="585.50" r="1.65"/>
<circle cx="121.80" cy="589.50" r="1.65"/>
<circle cx="158.70" cy="508.00" r="1.65"/>
<circle cx="162.80" cy="510.80" r="1.65"/>
<circle cx="166.80" cy="509.10" r="1.65"/>
<circle cx="160.70" cy="534.00" r="1.65"/>
<circle cx="164.70" cy="537.70" r="1.65"/>
<circle cx="158.70" cy="546.60" r="1.65"/>
<circle cx="162.80" cy="549.80" r="1.65"/>
<circle cx="166.80" cy="548.60" r="1.65"/>
<circle cx="201.80" cy="551.90" r="1.65"/>
<circle cx="201.80" cy="563.60" r="1.65"/>
<circle cx="200.00" cy="573.10" r="1.65"/>
<circle cx="203.90" cy="571.60" r="1.65"/>
<circle cx="241.10" cy="516.00" r="1.65"/>
<circle cx="241.10" cy="530.80" r="1.65"/>
<circle cx="241.10" cy="540.20" r="1.65"/>
<circle cx="241.10" cy="550.00" r="1.65"/>
<line x1="316.40" y1="490.80" x2="316.40" y2="625.10" stroke="#111" stroke-width="1.2"/>
<line x1="313.00" y1="624.50" x2="512.80" y2="624.50" stroke="#111" stroke-width="1.2"/>
<line x1="313.00" y1="624.50" x2="316.40" y2="624.50" stroke="#111" stroke-width="1.2"/>
<text x="310.20" y="627.40" font-size="8.4" text-anchor="end" >0</text>
<line x1="313.00" y1="598.42" x2="316.40" y2="598.42" stroke="#111" stroke-width="1.2"/>
<text x="310.20" y="601.32" font-size="8.4" text-anchor="end" >20</text>
<line x1="313.00" y1="572.34" x2="316.40" y2="572.34" stroke="#111" stroke-width="1.2"/>
<text x="310.20" y="575.24" font-size="8.4" text-anchor="end" >40</text>
<line x1="313.00" y1="546.26" x2="316.40" y2="546.26" stroke="#111" stroke-width="1.2"/>
<text x="310.20" y="549.16" font-size="8.4" text-anchor="end" >60</text>
<line x1="313.00" y1="520.18" x2="316.40" y2="520.18" stroke="#111" stroke-width="1.2"/>
<text x="310.20" y="523.08" font-size="8.4" text-anchor="end" >80</text>
<line x1="313.00" y1="494.10" x2="316.40" y2="494.10" stroke="#111" stroke-width="1.2"/>
<text x="310.20" y="497.00" font-size="8.4" text-anchor="end" >100</text>
<line x1="335.50" y1="624.50" x2="335.50" y2="627.70" stroke="#111" stroke-width="1.2"/>
<line x1="374.75" y1="624.50" x2="374.75" y2="627.70" stroke="#111" stroke-width="1.2"/>
<line x1="414.00" y1="624.50" x2="414.00" y2="627.70" stroke="#111" stroke-width="1.2"/>
<line x1="453.25" y1="624.50" x2="453.25" y2="627.70" stroke="#111" stroke-width="1.2"/>
<line x1="492.50" y1="624.50" x2="492.50" y2="627.70" stroke="#111" stroke-width="1.2"/>
<text x="335.50" y="638.20" font-size="8.5" text-anchor="middle" >del(13q)</text>
<text x="374.75" y="638.20" font-size="8.5" text-anchor="middle" >No FISH</text>
<text x="414.00" y="638.20" font-size="8.5" text-anchor="middle" >+12</text>
<text x="453.25" y="638.20" font-size="8.5" text-anchor="middle" >del(11q)</text>
<text x="492.50" y="638.20" font-size="8.5" text-anchor="middle" >del(17p)</text>
<text x="374.75" y="649.30" font-size="8.5" text-anchor="middle" >lesion</text>
<text transform="translate(290.00,557.70) rotate(-90)" font-size="9.4" text-anchor="middle">sIgM iCa<tspan font-size="6.3" dy="-2.7">2+</tspan><tspan dy="2.7"> (%)</tspan></text>
<text x="278.50" y="457.40" font-size="12.0" text-anchor="start" font-weight="bold">F</text>
<polyline points="333.10,507.30 333.10,463.70 492.70,463.70 492.70,479.60" fill="none" stroke="#111" stroke-width="1.2"/>
<polyline points="335.60,507.30 335.60,479.40 413.90,479.40 413.90,485.80" fill="none" stroke="#111" stroke-width="1.2"/>
<text x="441.20" y="472.70" font-size="8.0" textLength="33.60" lengthAdjust="spacingAndGlyphs"><tspan font-style="italic">P</tspan> = .0015</text>
<text x="357.70" y="489.00" font-size="8.0" textLength="33.70" lengthAdjust="spacingAndGlyphs"><tspan font-style="italic">P</tspan> = .0024</text>
<line x1="322.80" y1="593.20" x2="349.20" y2="593.20" stroke="#111" stroke-width="1.45"/>
<line x1="362.20" y1="593.90" x2="387.80" y2="593.90" stroke="#111" stroke-width="1.45"/>
<line x1="401.30" y1="547.90" x2="427.70" y2="547.90" stroke="#111" stroke-width="1.45"/>
<line x1="440.20" y1="564.20" x2="466.50" y2="564.20" stroke="#111" stroke-width="1.45"/>
<line x1="479.60" y1="517.40" x2="505.80" y2="517.40" stroke="#111" stroke-width="1.45"/>
<circle cx="336.10" cy="520.60" r="1.65"/>
<circle cx="338.10" cy="527.00" r="1.65"/>
<circle cx="334.10" cy="529.60" r="1.65"/>
<circle cx="340.00" cy="531.90" r="1.65"/>
<circle cx="332.20" cy="534.90" r="1.65"/>
<circle cx="336.10" cy="534.90" r="1.65"/>
<circle cx="338.10" cy="540.20" r="1.65"/>
<circle cx="332.20" cy="543.90" r="1.65"/>
<circle cx="334.10" cy="547.90" r="1.65"/>
<circle cx="338.10" cy="550.30" r="1.65"/>
<circle cx="338.10" cy="555.70" r="1.65"/>
<circle cx="334.10" cy="559.70" r="1.65"/>
<circle cx="334.10" cy="564.90" r="1.65"/>
<circle cx="338.10" cy="564.90" r="1.65"/>
<circle cx="332.20" cy="568.90" r="1.65"/>
<circle cx="336.10" cy="570.30" r="1.65"/>
<circle cx="340.00" cy="570.30" r="1.65"/>
<circle cx="334.10" cy="577.90" r="1.65"/>
<circle cx="340.00" cy="580.50" r="1.65"/>
<circle cx="338.10" cy="583.20" r="1.65"/>
<circle cx="334.10" cy="585.80" r="1.65"/>
<circle cx="332.20" cy="587.10" r="1.65"/>
<circle cx="340.00" cy="587.10" r="1.65"/>
<circle cx="336.10" cy="590.40" r="1.65"/>
<circle cx="332.20" cy="595.00" r="1.65"/>
<circle cx="336.10" cy="596.10" r="1.65"/>
<circle cx="340.00" cy="596.10" r="1.65"/>
<circle cx="328.20" cy="601.50" r="1.65"/>
<circle cx="332.20" cy="603.70" r="1.65"/>
<circle cx="336.10" cy="604.00" r="1.65"/>
<circle cx="340.00" cy="602.70" r="1.65"/>
<circle cx="344.00" cy="600.10" r="1.65"/>
<circle cx="328.20" cy="607.90" r="1.65"/>
<circle cx="332.20" cy="611.70" r="1.65"/>
<circle cx="336.10" cy="611.70" r="1.65"/>
<circle cx="340.00" cy="611.70" r="1.65"/>
<circle cx="344.00" cy="609.40" r="1.65"/>
<circle cx="334.10" cy="615.50" r="1.65"/>
<circle cx="324.20" cy="617.20" r="1.65"/>
<circle cx="326.84" cy="617.20" r="1.65"/>
<circle cx="329.49" cy="617.20" r="1.65"/>
<circle cx="332.13" cy="617.20" r="1.65"/>
<circle cx="334.78" cy="617.20" r="1.65"/>
<circle cx="337.42" cy="617.20" r="1.65"/>
<circle cx="340.07" cy="617.20" r="1.65"/>
<circle cx="342.71" cy="617.20" r="1.65"/>
<circle cx="345.36" cy="617.20" r="1.65"/>
<circle cx="348.00" cy="617.20" r="1.65"/>
<circle cx="333.80" cy="619.10" r="1.65"/>
<circle cx="337.20" cy="618.70" r="1.65"/>
<circle cx="340.00" cy="619.70" r="1.65"/>
<circle cx="324.00" cy="620.90" r="1.65"/>
<circle cx="326.69" cy="620.90" r="1.65"/>
<circle cx="329.38" cy="620.90" r="1.65"/>
<circle cx="332.07" cy="620.90" r="1.65"/>
<circle cx="334.76" cy="620.90" r="1.65"/>
<circle cx="337.44" cy="620.90" r="1.65"/>
<circle cx="340.13" cy="620.90" r="1.65"/>
<circle cx="342.82" cy="620.90" r="1.65"/>
<circle cx="345.51" cy="620.90" r="1.65"/>
<circle cx="348.20" cy="620.90" r="1.65"/>
<circle cx="328.50" cy="622.60" r="1.65"/>
<circle cx="332.00" cy="622.80" r="1.65"/>
<circle cx="335.80" cy="623.20" r="1.65"/>
<circle cx="340.00" cy="622.80" r="1.65"/>
<circle cx="343.50" cy="622.50" r="1.65"/>
<circle cx="373.30" cy="512.80" r="1.65"/>
<circle cx="377.30" cy="516.40" r="1.65"/>
<circle cx="375.30" cy="528.30" r="1.65"/>
<circle cx="375.30" cy="550.50" r="1.65"/>
<circle cx="375.40" cy="568.80" r="1.65"/>
<circle cx="375.40" cy="576.50" r="1.65"/>
<circle cx="375.40" cy="587.10" r="1.65"/>
<circle cx="375.40" cy="605.00" r="1.65"/>
<circle cx="373.00" cy="610.50" r="1.65"/>
<circle cx="377.50" cy="609.10" r="1.65"/>
<circle cx="375.40" cy="624.00" r="1.65"/>
<circle cx="363.70" cy="615.60" r="1.65"/>
<circle cx="367.10" cy="616.90" r="1.65"/>
<circle cx="370.40" cy="619.50" r="1.65"/>
<circle cx="371.30" cy="621.00" r="1.65"/>
<circle cx="373.50" cy="619.80" r="1.65"/>
<circle cx="377.20" cy="619.50" r="1.65"/>
<circle cx="379.20" cy="620.80" r="1.65"/>
<circle cx="383.40" cy="617.10" r="1.65"/>
<circle cx="387.00" cy="616.90" r="1.65"/>
<circle cx="414.20" cy="518.20" r="1.65"/>
<circle cx="412.20" cy="536.20" r="1.65"/>
<circle cx="416.40" cy="536.20" r="1.65"/>
<circle cx="414.30" cy="541.50" r="1.65"/>
<circle cx="416.40" cy="575.20" r="1.65"/>
<circle cx="412.20" cy="578.00" r="1.65"/>
<circle cx="453.40" cy="515.30" r="1.65"/>
<circle cx="453.40" cy="529.90" r="1.65"/>
<circle cx="453.40" cy="588.30" r="1.65"/>
<circle cx="453.40" cy="622.00" r="1.65"/>
<circle cx="492.70" cy="512.50" r="1.65"/>
<circle cx="492.70" cy="521.90" r="1.65"/>
</g>
</svg>
</body></html>
